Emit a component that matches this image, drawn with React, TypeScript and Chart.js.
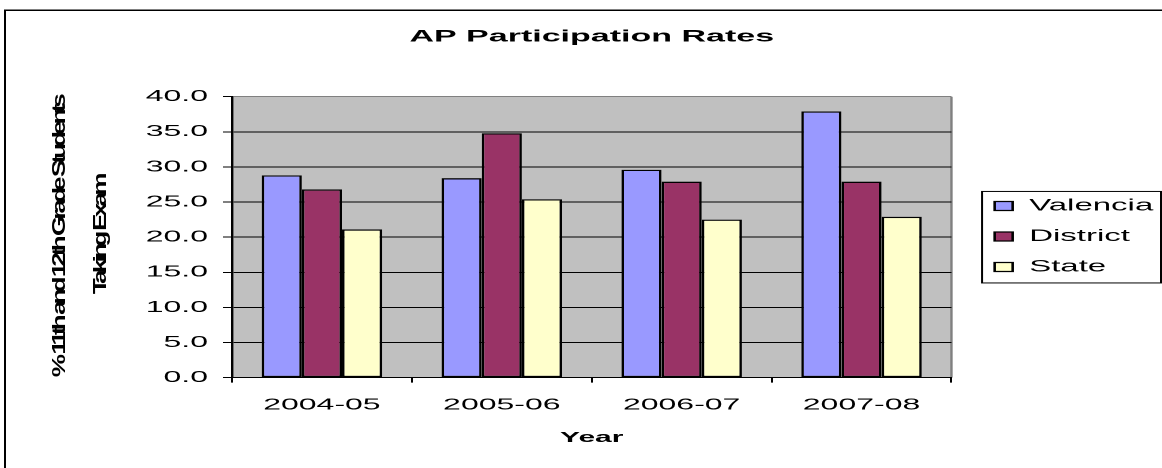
import React, { useEffect, useRef } from 'react';
import { Chart, registerables } from 'chart.js';

Chart.register(...registerables);

// ---- data ----
const CATEGORIES = ['2004-05', '2005-06', '2006-07', '2007-08'];
const VALENCIA = [28.8, 28.4, 29.6, 37.9];
const DISTRICT = [26.8, 34.8, 27.9, 27.9];
const STATE = [21.1, 25.4, 22.5, 22.9];
const SERIES_NAMES = ['Valencia', 'District', 'State'];
const SERIES_COLORS = ['#9999FF', '#993366', '#FFFFCC'];
const Y_MIN = 0;
const Y_MAX = 40;
const Y_STEP = 5;
const TITLE = 'AP Participation Rates';
const X_TITLE = 'Year';
const Y_TITLE_LINES = ['% 11th and 12th Grade Students', 'Taking Exam'];

const FONT = "'Liberation Sans', Arial, Helvetica, sans-serif";

// The chart is laid out on a narrow canvas and widened 2x with CSS,
// like a spreadsheet chart pasted and stretched sideways.
const W = 585;
const H = 468;

// outer chart frame (only its top and left edges fall inside the page)
const framePlugin = {
  id: 'frame',
  beforeDraw(chart: any) {
    const { ctx } = chart;
    ctx.save();
    ctx.fillStyle = '#000';
    ctx.fillRect(2, 9.5, 1, H);
    ctx.fillRect(2, 9.5, W, 1.5);
    ctx.restore();
  },
};

// grey plot area with a grey right edge
const plotAreaPlugin = {
  id: 'plotArea',
  beforeDraw(chart: any) {
    const { ctx, chartArea: a } = chart;
    ctx.save();
    ctx.fillStyle = '#C0C0C0';
    ctx.fillRect(a.left, a.top, a.right - a.left, a.bottom - a.top);
    ctx.strokeStyle = '#808080';
    ctx.lineWidth = 1.2;
    ctx.beginPath();
    ctx.moveTo(a.right, a.top);
    ctx.lineTo(a.right, a.bottom);
    ctx.stroke();
    ctx.restore();
  },
};

// two-line rotated value-axis title, set tall, narrow and tightly packed
const Y_TITLE_LENGTHS = [280, 118];
const yTitlePlugin = {
  id: 'yTitle',
  afterDraw(chart: any) {
    const { ctx, chartArea: a, scales } = chart;
    const left = scales.y.left;
    const cy = (a.top + a.bottom) / 2;
    const size = 26;
    ctx.save();
    ctx.fillStyle = '#000';
    ctx.font = `bold ${size}px ${FONT}`;
    ctx.textAlign = 'center';
    ctx.textBaseline = 'middle';
    Y_TITLE_LINES.forEach((line, i) => {
      ctx.save();
      const target = Y_TITLE_LENGTHS[i];
      let along = 1;
      if ('letterSpacing' in ctx) {
        ctx.letterSpacing = '0px';
        const w = ctx.measureText(line).width;
        ctx.letterSpacing = `${(target - w) / line.length}px`;
      } else {
        along = target / ctx.measureText(line).width;
      }
      ctx.translate(left + 30 + i * 20.5, cy - i * 2);
      ctx.rotate(-Math.PI / 2);
      ctx.scale(along, 0.355);
      ctx.fillText(line, 0, 0);
      ctx.restore();
    });
    ctx.restore();
  },
};

// box around the legend
const legendBoxPlugin = {
  id: 'legendBox',
  afterDraw(chart: any) {
    const lg = chart.legend;
    if (!lg || !lg.legendHitBoxes || !lg.legendHitBoxes.length) return;
    const hb = lg.legendHitBoxes;
    const last = hb[hb.length - 1];
    const left = hb[0].left - 6.3;
    const top = hb[0].top - 6.3;
    const bottom = last.top + last.height + 7.7;
    const right = lg.right + 0.5;
    const { ctx } = chart;
    ctx.save();
    ctx.strokeStyle = '#000';
    ctx.lineWidth = 1;
    ctx.strokeRect(left, top, right - left, bottom - top);
    ctx.restore();
  },
};

export default function App() {
  const ref = useRef<HTMLCanvasElement>(null);

  useEffect(() => {
    const canvas = ref.current;
    if (!canvas) return;
    const seriesData = [VALENCIA, DISTRICT, STATE];

    const chart = new Chart(canvas, {
      type: 'bar',
      data: {
        labels: CATEGORIES,
        datasets: SERIES_NAMES.map((name, i) => ({
          label: name,
          data: seriesData[i],
          backgroundColor: SERIES_COLORS[i],
          borderColor: '#000',
          borderWidth: 1.3,
          borderSkipped: false,
          barPercentage: 1,
          categoryPercentage: 0.67,
        })),
      },
      options: {
        responsive: false,
        animation: false,
        devicePixelRatio: 2,
        layout: { padding: { top: 5, left: 0, right: 5, bottom: 0 } },
        plugins: {
          title: {
            display: true,
            text: TITLE,
            fullSize: false,
            color: '#000',
            font: { family: FONT, size: 17, weight: 'bold' },
            padding: { top: 21.5, bottom: 49.8 },
          },
          legend: {
            position: 'right',
            labels: {
              color: '#000',
              font: { family: FONT, size: 16.5 },
              boxWidth: 9,
              boxHeight: 9,
              padding: 14,
            },
          },
          tooltip: { enabled: false },
        },
        scales: {
          x: {
            grid: {
              display: true,
              drawOnChartArea: false,
              drawTicks: true,
              tickLength: 5,
              tickColor: '#000',
              offset: true,
            },
            border: { display: true, color: '#000', width: 1 },
            ticks: {
              color: '#000',
              font: { family: FONT, size: 16 },
              padding: 12.9,
              maxRotation: 0,
            },
            title: {
              display: true,
              text: X_TITLE,
              color: '#000',
              font: { family: FONT, size: 15, weight: 'bold' },
              padding: { top: 1.4, bottom: 21 },
            },
          },
          y: {
            min: Y_MIN,
            max: Y_MAX,
            ticks: {
              stepSize: Y_STEP,
              color: '#000',
              font: { family: FONT, size: 16 },
              padding: 7.5,
              callback: (v: any) => Number(v).toFixed(1),
            },
            grid: {
              color: (c: any) => (c.tick && c.tick.value === Y_MAX ? '#808080' : '#000'),
              lineWidth: 1,
              tickColor: '#000',
              tickLength: 4.5,
              drawTicks: true,
            },
            border: { display: true, color: '#000', width: 1.2 },
            afterFit: (s: any) => {
              s.width = 116;
            },
          },
          // spacer between plot and legend
          gap: {
            type: 'linear',
            position: 'right',
            display: true,
            grid: { display: false, drawTicks: false },
            border: { display: false },
            ticks: { display: false },
            afterFit: (s: any) => {
              s.width = 7.6;
            },
          },
        },
      } as any,
      plugins: [framePlugin, plotAreaPlugin, yTitlePlugin, legendBoxPlugin],
    });

    return () => chart.destroy();
  }, []);

  return (
    <div
      style={{
        position: 'fixed',
        left: 0,
        top: 0,
        width: 1162,
        height: 468,
        overflow: 'hidden',
        background: '#fff',
      }}
    >
      <div style={{ transform: 'scaleX(2)', transformOrigin: '0 0', width: W, height: H }}>
        <canvas ref={ref} width={W} height={H} />
      </div>
    </div>
  );
}
